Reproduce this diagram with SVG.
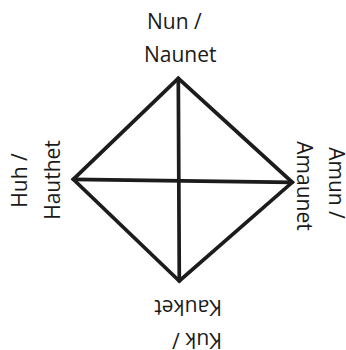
<svg xmlns="http://www.w3.org/2000/svg" width="346" height="350" viewBox="0 0 346 350">
<style>
.lbl{font-family:"Open Sans","Noto Sans","Liberation Sans",sans-serif;font-size:21px;fill:#1a1a1a}
.mid{text-anchor:middle}
.edge{stroke:#1c1c1c;stroke-width:3.7;fill:none;stroke-linecap:round;stroke-linejoin:miter}
</style>
<rect width="346" height="350" fill="#ffffff"/>
<g id="connectors">
<path class="edge" d="M178.3,78.3 L73.3,179.3 L179.3,281 L292.3,182.3 Z"/>
<path class="edge" d="M178.3,78.3 L179.3,281"/>
<path class="edge" d="M73.3,179.3 L292.3,182.3"/>
</g>
<g id="nun">
<text class="lbl" x="147" y="29">Nun /</text>
<text class="lbl" x="144" y="62">Naunet</text>
</g>
<g id="huh" transform="translate(27,180.5) rotate(-90)">
<text class="lbl mid" x="0" y="0">Huh /</text>
<text class="lbl mid" x="0.5" y="33">Hauthet</text>
</g>
<g id="amun" transform="translate(329,0) rotate(90)">
<text class="lbl mid" x="183" y="0">Amun /</text>
<text class="lbl mid" x="186" y="32">Amaunet</text>
</g>
<g id="kuk" transform="translate(222,333) rotate(180)">
<text class="lbl" x="0" y="0">Kuk /</text>
<text class="lbl" x="0" y="33">Kauket</text>
</g>
</svg>
